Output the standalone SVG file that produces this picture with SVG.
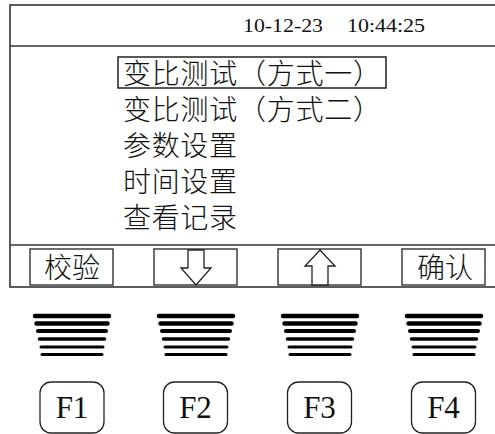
<svg xmlns="http://www.w3.org/2000/svg" width="495" height="434" viewBox="0 0 495 434">
<style>
.frame{fill:none;stroke:#333;stroke-width:1.6}
.btn{fill:#fff;stroke:#222;stroke-width:1.3}
.cjk{font-family:"Noto Sans CJK SC","Noto Sans",sans-serif;font-size:28px;font-weight:300;fill:#111}
.date{font-family:"Liberation Serif",serif;font-size:18px;fill:#111}
.fk{font-family:"Liberation Serif",serif;font-size:31px;fill:#111;text-anchor:middle}
.key{fill:#fff;stroke:#222;stroke-width:1.3}
.bar{stroke:#000;stroke-linecap:round}
.arrow{fill:#fff;stroke:#222;stroke-width:1.3}
</style>
<defs>
<g id="bars">
<line class="bar" x1="-37" y1="316" x2="37" y2="316" stroke-width="4.5"/>
<line class="bar" x1="-35.5" y1="323.5" x2="35.5" y2="323.5" stroke-width="4.5"/>
<line class="bar" x1="-34" y1="331" x2="34" y2="331" stroke-width="4"/>
<line class="bar" x1="-32.5" y1="339" x2="32.5" y2="339" stroke-width="3.5"/>
<line class="bar" x1="-31" y1="347" x2="31" y2="347" stroke-width="3"/>
<line class="bar" x1="-30" y1="354.5" x2="30" y2="354.5" stroke-width="3"/>
</g>
</defs>
<rect width="495" height="434" fill="#fff"/>
<g id="screen">
<rect class="frame" x="10" y="5" width="492" height="282"/>
<line class="frame" x1="10" y1="46" x2="495" y2="46"/>
<line class="frame" x1="10" y1="245" x2="495" y2="245"/>
</g>
<g id="datetime">
<text class="date" x="243" y="32" textLength="80" lengthAdjust="spacingAndGlyphs">10-12-23</text>
<text class="date" x="347" y="32" textLength="78" lengthAdjust="spacingAndGlyphs">10:44:25</text>
</g>
<g id="menu">
<rect x="118" y="57" width="268" height="31" fill="none" stroke="#111" stroke-width="1.4"/>
<text class="cjk" x="123" y="84" textLength="258" lengthAdjust="spacing">变比测试（方式一）</text>
<text class="cjk" x="123" y="120" textLength="258" lengthAdjust="spacing">变比测试（方式二）</text>
<text class="cjk" x="123" y="156" textLength="114" lengthAdjust="spacing">参数设置</text>
<text class="cjk" x="123" y="192" textLength="114" lengthAdjust="spacing">时间设置</text>
<text class="cjk" x="123" y="228" textLength="114" lengthAdjust="spacing">查看记录</text>
</g>
<g id="btn-verify">
<rect class="btn" x="30" y="249" width="83" height="36"/>
<text class="cjk" x="44" y="278" textLength="56" lengthAdjust="spacing">校验</text>
</g>
<g id="btn-down">
<rect class="btn" x="154" y="249" width="83" height="36"/>
<path class="arrow" d="M188,250 H204 V268 H211 L196,285 L181,268 H188 Z"/>
</g>
<g id="btn-up">
<rect class="btn" x="278" y="249" width="83" height="36"/>
<path class="arrow" d="M312,285 H328 V266 H335 L320,250 L305,266 H312 Z"/>
</g>
<g id="btn-confirm">
<rect class="btn" x="402" y="249" width="83" height="36"/>
<text class="cjk" x="417" y="278" textLength="56" lengthAdjust="spacing">确认</text>
</g>
<g id="bars1"><use href="#bars" x="72"/></g>
<g id="bars2"><use href="#bars" x="196"/></g>
<g id="bars3"><use href="#bars" x="320"/></g>
<g id="bars4"><use href="#bars" x="444"/></g>
<g id="F1"><rect class="key" x="40" y="382" width="64" height="51" rx="11"/><text class="fk" x="72" y="418">F1</text></g>
<g id="F2"><rect class="key" x="163.5" y="382" width="64" height="51" rx="11"/><text class="fk" x="195.5" y="418">F2</text></g>
<g id="F3"><rect class="key" x="287.5" y="382" width="64" height="51" rx="11"/><text class="fk" x="319.5" y="418">F3</text></g>
<g id="F4"><rect class="key" x="411.5" y="382" width="64" height="51" rx="11"/><text class="fk" x="443.5" y="418">F4</text></g>
<g id="connectors"/>
</svg>
